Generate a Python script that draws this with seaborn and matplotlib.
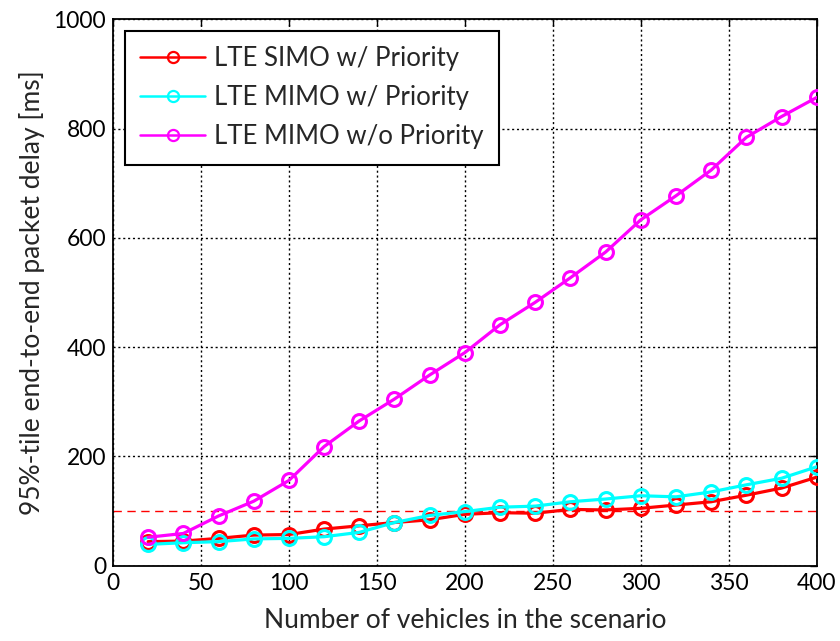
import numpy as np
import pandas as pd
import seaborn as sns
import matplotlib
matplotlib.use("Agg")
import matplotlib.pyplot as plt
from matplotlib.lines import Line2D

# Number of vehicles simulated
vehicles = [20, 40, 60, 80, 100, 120, 140, 160, 180, 200,
            220, 240, 260, 280, 300, 320, 340, 360, 380, 400]

# 95th-percentile end-to-end delay [ms]
simo_prio = [44, 45, 50, 56, 57, 67, 73, 79, 84, 94,
             97, 96, 103, 102, 105, 111, 117, 129, 142, 162]
mimo_prio = [39, 42, 44, 49, 50, 53, 61, 79, 92, 99,
             107, 109, 117, 122, 128, 126, 135, 148, 160, 181]
mimo_noprio = [52, 59, 91, 118, 156, 218, 265, 305, 349, 390,
               441, 482, 527, 574, 633, 677, 724, 784, 822, 857]

series_names = ["LTE SIMO w/ Priority", "LTE MIMO w/ Priority", "LTE MIMO w/o Priority"]
series_colors = ["#ff0000", "#00ffff", "#ff00ff"]
delay_limit = 100

x_ticks = [0, 50, 100, 150, 200, 250, 300, 350, 400]
y_ticks = [0, 200, 400, 600, 800, 1000]

df = pd.DataFrame({
    "vehicles": vehicles * 3,
    "delay": simo_prio + mimo_prio + mimo_noprio,
    "scheme": np.repeat(series_names, len(vehicles)),
})

sns.set_style("white")
plt.rcParams["font.family"] = ["Lato", "DejaVu Sans"]

fig = plt.figure(figsize=(8.4, 6.41), dpi=100)
ax = fig.add_axes([0.1345, 0.1175, 0.8378, 0.8524])

palette = dict(zip(series_names, series_colors))
for name in series_names:
    sub = df[df["scheme"] == name]
    sns.lineplot(data=sub, x="vehicles", y="delay", ax=ax, color=palette[name],
                 linewidth=2.3, marker="o", markersize=10, markerfacecolor="none",
                 markeredgecolor=palette[name], markeredgewidth=2.2,
                 legend=False, zorder=3)

ax.axhline(delay_limit, color="#ff0000", linestyle=(0, (6, 4)), linewidth=1.0, zorder=2)

ax.set_xlim(0, 400)
ax.set_ylim(0, 1000)
ax.set_xticks(x_ticks)
ax.set_yticks(y_ticks)
ax.grid(True, color="black", linestyle=(0, (1.5, 2)), linewidth=1.0)
for s in ax.spines.values():
    s.set_color("black")
    s.set_linewidth(1.3)
ax.tick_params(direction="in", top=True, right=True, length=5, width=1,
               labelsize=16.5, colors="black", pad=5)

ax.set_xlabel("Number of vehicles in the scenario", fontsize=19, labelpad=10)
ax.set_ylabel("95%-tile end-to-end packet delay [ms]", fontsize=19, labelpad=6)

handles = [Line2D([0], [0], color=c, linewidth=1.8, marker="o", markersize=8,
                  markerfacecolor="none", markeredgewidth=1.6)
           for c in series_colors]
leg = ax.legend(handles, series_names, loc="upper left",
                bbox_to_anchor=(125 / 840, 1 - 30.7 / 641), bbox_transform=fig.transFigure,
                borderaxespad=0, fontsize=18.5, handlelength=2.5, handletextpad=0.35,
                labelspacing=0.55, borderpad=0.6, fancybox=False, framealpha=1,
                edgecolor="black")
leg.get_frame().set_linewidth(1.5)

fig.savefig("out.png", dpi=100)
